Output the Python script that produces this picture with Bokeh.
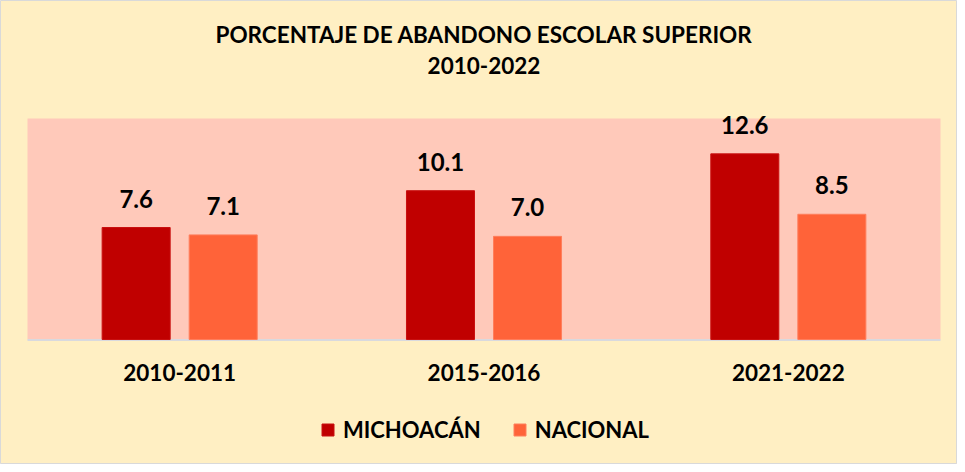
from bokeh.plotting import figure
from bokeh.models import (Range1d, ColumnDataSource, LabelSet, Legend, LegendItem, Label)
from bokeh.core.properties import value
from bokeh.embed import file_html
from bokeh.resources import INLINE

# ---- data ----
categories = ["2010-2011", "2015-2016", "2021-2022"]
michoacan = [7.6, 10.1, 12.6]
nacional = [7.1, 7.0, 8.5]
series_names = ["MICHOACÁN", "NACIONAL"]
title_lines = ["PORCENTAJE DE ABANDONO ESCOLAR SUPERIOR", "2010-2022"]
y_max = 15

FONT = "Lato"
BG = "#FFEFC3"
PLOT_BG = "#FFC9BA"
C_MICH = "#C00000"
C_NAC = "#FF6339"

W, H = 957, 464
# plot-area placement inside the figure (pixels)
PL, PR, PT, PB = 27, 17, 118, 125
ppu_x = (W - PL - PR) / len(categories)
ppu_y = (H - PT - PB) / y_max

n = len(categories)
centers = [i + 0.5 for i in range(n)]
off = 0.143
bw = 0.2235

src = ColumnDataSource(dict(
    xm=[c - off for c in centers],
    xn=[c + off for c in centers],
    xc=centers,
    base=[0] * n,
    cat=categories,
    mich=michoacan,
    nac=nacional,
    mich_lbl=[f"{v:.1f}" for v in michoacan],
    nac_lbl=[f"{v:.1f}" for v in nacional],
))

p = figure(width=W, height=H, output_backend="svg", toolbar_location=None,
           x_range=Range1d(-PL / ppu_x, n + PR / ppu_x),
           y_range=Range1d(-PB / ppu_y, y_max + PT / ppu_y),
           min_border=0)
p.xaxis.visible = False
p.yaxis.visible = False
p.xgrid.grid_line_color = None
p.ygrid.grid_line_color = None
p.background_fill_color = BG
p.border_fill_color = BG
p.outline_line_color = "#D9D9D9"

# plot area
p.quad(left=0, right=n, bottom=0, top=y_max, fill_color=PLOT_BG, line_color=None)
p.line(x=[0, n], y=[-0.04, -0.04], line_color="#D9D9DE", line_width=2)

r1 = p.vbar(x="xm", top="mich", width=bw, source=src,
            fill_color=C_MICH, line_color="#C81010", line_width=1)
r2 = p.vbar(x="xn", top="nac", width=bw, source=src,
            fill_color=C_NAC, line_color="#FF7E5C", line_width=1)

for xf, fld, top in (("xm", "mich_lbl", "mich"), ("xn", "nac_lbl", "nac")):
    p.add_layout(LabelSet(x=xf, y=top, text=fld, source=src,
                          text_align="center", text_baseline="alphabetic", y_offset=20,
                          text_font=value(FONT), text_font_style="bold",
                          text_font_size="24px", text_color="#000000"))

# category labels
p.add_layout(LabelSet(x="xc", y="base", text="cat", source=src,
                      text_align="center", text_baseline="middle", y_offset=-33,
                      text_font=value(FONT), text_font_style="bold",
                      text_font_size="22.5px", text_color="#000000"))

# title
for i, t in enumerate(title_lines):
    p.add_layout(Label(x=n / 2, y=y_max, y_offset=84 - 31 * i, text=t, text_align="center",
                       text_baseline="middle", text_font=FONT, text_font_style="bold",
                       text_font_size="22.5px", text_color="#000000"))

legend = Legend(items=[LegendItem(label=series_names[0], renderers=[r1]),
                       LegendItem(label=series_names[1], renderers=[r2])],
                orientation="horizontal", location=(320, 21),
                label_text_font=FONT, label_text_font_style="bold",
                label_text_font_size="22px", label_text_color="#000000",
                glyph_width=15, glyph_height=15, label_standoff=8, spacing=31,
                background_fill_alpha=0, border_line_alpha=0, margin=0, padding=0)
p.add_layout(legend)

open("out.html", "w").write(file_html(p, INLINE))
